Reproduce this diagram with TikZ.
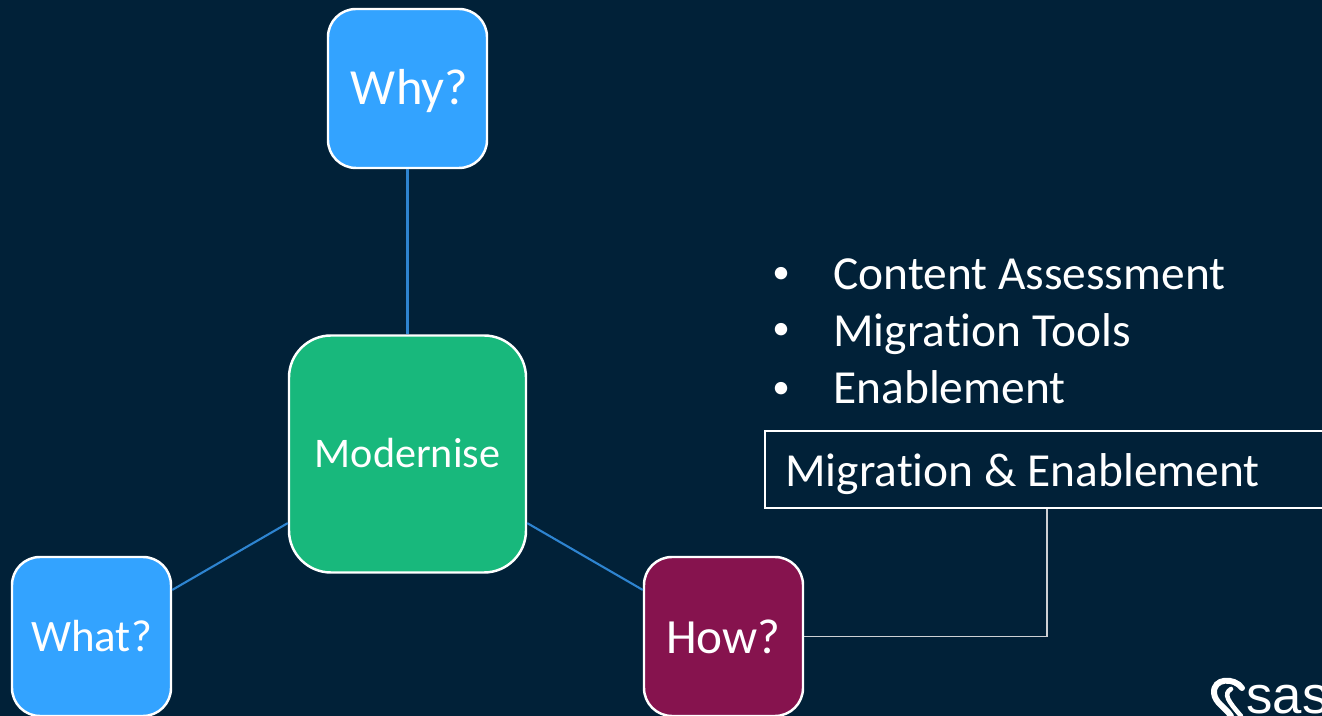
\documentclass[tikz,border=0pt]{standalone}
\usepackage{fontspec}
\setmainfont[Ligatures=NoCommon]{Carlito}
\newfontfamily\logofont{Liberation Sans}
\definecolor{sas_bg}{RGB}{1, 33, 56}
\definecolor{sas_blue}{RGB}{51, 163, 255}
\definecolor{sas_green}{RGB}{24, 184, 124}
\definecolor{sas_plum}{RGB}{134, 19, 78}
\definecolor{sas_line}{RGB}{46, 132, 208}
\definecolor{sas_grey}{RGB}{205, 208, 212}
\tikzstyle{bn}=[rectangle,rounded corners=0.56cm,fill=sas_blue,draw=white,text=white,
  line width=1.4pt,inner sep=0pt,minimum width=3.18cm,minimum height=3.18cm]
\tikzstyle{gn}=[rectangle,rounded corners=0.84cm,fill=sas_green,draw=white,text=white,
  line width=1.4pt,inner sep=0pt,minimum width=4.74cm,minimum height=4.74cm]
\tikzstyle{pn}=[rectangle,rounded corners=0.56cm,fill=sas_plum,draw=white,text=white,
  line width=1.4pt,inner sep=0pt,minimum width=3.18cm,minimum height=3.18cm]
\tikzstyle{tn}=[rectangle,draw=white,text=white,line width=1.2pt,inner sep=0pt,
  minimum width=11.28cm,minimum height=1.54cm]
\tikzstyle{none}=[text=white,inner sep=0pt]
\tikzstyle{spoke}=[draw=sas_line,line width=1.2pt]
\tikzstyle{elbow}=[draw=sas_grey,line width=0.8pt]

\begin{document}
\begin{tikzpicture}
            \useasboundingbox (0, 0) rectangle (26.44, 14.32);
            \clip (0, 0) rectangle (26.44, 14.32);
            \fill [sas_bg] (0, 0) rectangle (26.44, 14.32);
            \node [style=bn, text height=24pt, text depth=6pt] (0) at (8.15, 12.55) {\fontsize{28.8}{34}\selectfont\hspace{0.08cm}Why?};
            \node [style=gn] (1) at (8.15, 5.24) {\fontsize{24}{29}\selectfont\raisebox{0.04cm}{Modernise}};
            \node [style=bn] (2) at (1.83, 1.59) {\fontsize{25.6}{30}\selectfont What?};
            \node [style=pn] (3) at (14.47, 1.59) {\fontsize{28}{33}\selectfont How?};
            \node [style=tn] (4) at (20.94, 4.93) {};
            \node [style=none, anchor=base west] (5) at (15.7, 4.59) {\fontsize{27}{32}\selectfont Migration \& Enablement};
            \node [style=none, anchor=base] (6) at (15.62, 8.64) {\fontsize{20}{24}\selectfont •};
            \node [style=none, anchor=base] (7) at (15.62, 7.52) {\fontsize{20}{24}\selectfont •};
            \node [style=none, anchor=base] (8) at (15.62, 6.34) {\fontsize{20}{24}\selectfont •};
            \node [style=none, anchor=base west] (9) at (16.66, 8.52) {\fontsize{27}{32}\selectfont Content Assessment};
            \node [style=none, anchor=base west] (10) at (16.66, 7.38) {\fontsize{27}{32}\selectfont Migration Tools};
            \node [style=none, anchor=base west] (11) at (16.66, 6.24) {\fontsize{27}{32}\selectfont Enablement};
            \node [style=none, anchor=base west] (12) at (24.92, 0.04) {\logofont\fontsize{30}{36}\selectfont sas};
            \coordinate (13) at (20.94, 1.59);
            \draw [style=spoke] (0) to (1);
            \draw [style=spoke] (1) to (2);
            \draw [style=spoke] (1) to (3);
            \draw [style=elbow] (3) to (13) to (4);
            % logo mark
            \draw [white, line width=3.4pt, line cap=round]
              (24.84, 0.56) .. controls (24.68, 0.78) and (24.26, 0.76) .. (24.28, 0.46)
              .. controls (24.3, 0.26) and (24.5, 0.18) .. (24.62, 0);
            \draw [white, line width=2.6pt, line cap=round]
              (24.62, 0.54) .. controls (24.46, 0.44) and (24.56, 0.3) .. (24.82, 0);
    \end{tikzpicture}
\end{document}
